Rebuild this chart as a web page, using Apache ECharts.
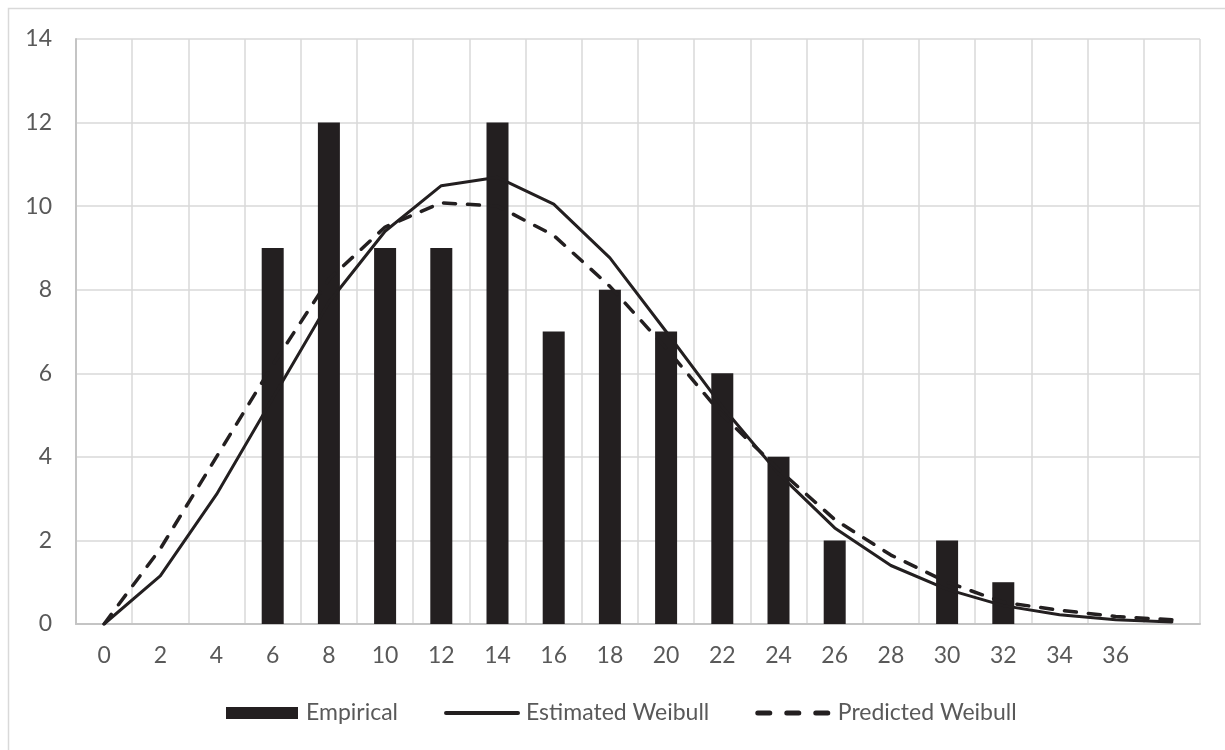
<!DOCTYPE html>
<html>
<head>
<meta charset="utf-8">
<script src="https://cdn.jsdelivr.net/npm/echarts@6/dist/echarts.min.js"></script>
<style>
  html, body { margin: 0; padding: 0; background: #fff; }
  #chart { width: 1225px; height: 750px; }
</style>
</head>
<body>
<div id="chart"></div>
<script>
// Class midpoints (x axis categories)
const categories = ['0','2','4','6','8','10','12','14','16','18','20','22','24','26','28','30','32','34','36','38'];
// Observed counts per class
const empirical = [0, 0, 0, 9, 12, 9, 9, 12, 7, 8, 7, 6, 4, 2, 0, 2, 1, 0, 0, 0];
// Fitted Weibull frequencies
const estimatedWeibull = [0, 1.15, 3.1, 5.4, 7.7, 9.4, 10.49, 10.69, 10.05, 8.76, 7.0, 5.2, 3.6, 2.3, 1.4, 0.83, 0.44, 0.22, 0.1, 0.05];
const predictedWeibull = [0, 1.8, 4.0, 6.2, 8.25, 9.5, 10.08, 10.0, 9.3, 8.08, 6.6, 5.0, 3.7, 2.5, 1.65, 1.0, 0.52, 0.33, 0.18, 0.1];
// Category labels shown under the axis (last class left unlabeled)
const shownLabels = categories.slice(0, 19);

const chart = echarts.init(document.getElementById('chart'));
const textColor = '#595959';
const ink = '#231f20';
const font = 'Lato, "Open Sans", sans-serif';

chart.setOption({
  animation: false,
  backgroundColor: '#ffffff',
  graphic: [{
    type: 'rect',
    shape: { x: 8.5, y: 8.5, width: 1300, height: 800 },
    style: { fill: 'none', stroke: '#d9d9d9', lineWidth: 1.5 },
    silent: true,
    z: -10
  }],
  grid: { left: 76, right: 25, top: 39, bottom: 126, containLabel: false },
  legend: {
    top: 699,
    left: 226,
    padding: 0,
    itemGap: 46,
    itemWidth: 72,
    itemHeight: 12,
    textStyle: { color: textColor, fontSize: 23, fontFamily: font, padding: [0, 0, 0, 3], lineHeight: 28 },
    data: [
      { name: 'Empirical', icon: 'rect', itemStyle: { color: ink } },
      { name: 'Estimated Weibull', itemStyle: { opacity: 0 }, lineStyle: { width: 4, cap: 'round' } },
      { name: 'Predicted Weibull', itemStyle: { opacity: 0 }, lineStyle: { width: 5, type: [12, 17], cap: 'round' } }
    ]
  },
  xAxis: {
    type: 'category',
    data: categories,
    boundaryGap: true,
    axisLine: { show: true, lineStyle: { color: '#c4c4c4', width: 2 } },
    axisTick: { show: false },
    splitLine: { show: true, interval: 0, lineStyle: { color: '#d9d9d9', width: 1.5 } },
    axisLabel: {
      interval: 0,
      color: textColor,
      fontSize: 23,
      fontFamily: font,
      margin: 20,
      formatter: function (v) { return shownLabels.indexOf(v) >= 0 ? v : ''; }
    }
  },
  yAxis: {
    type: 'value',
    min: 0,
    max: 14,
    interval: 2,
    axisLine: { show: true, lineStyle: { color: '#c4c4c4', width: 2 } },
    axisTick: { show: false },
    splitLine: { show: true, lineStyle: { color: '#d9d9d9', width: 1.5 } },
    axisLabel: { color: textColor, fontSize: 23, fontFamily: font, margin: 24 }
  },
  series: [
    {
      name: 'Empirical',
      type: 'bar',
      data: empirical,
      barWidth: 22,
      itemStyle: { color: ink },
      z: 2
    },
    {
      name: 'Estimated Weibull',
      type: 'line',
      data: estimatedWeibull,
      symbol: 'none',
      lineStyle: { color: ink, width: 3, cap: 'round', join: 'round' },
      itemStyle: { color: ink },
      z: 3
    },
    {
      name: 'Predicted Weibull',
      type: 'line',
      data: predictedWeibull,
      symbol: 'none',
      lineStyle: { color: ink, width: 3.5, type: [12, 12], cap: 'round', join: 'round' },
      itemStyle: { color: ink },
      z: 4
    }
  ]
});
</script>
</body>
</html>
